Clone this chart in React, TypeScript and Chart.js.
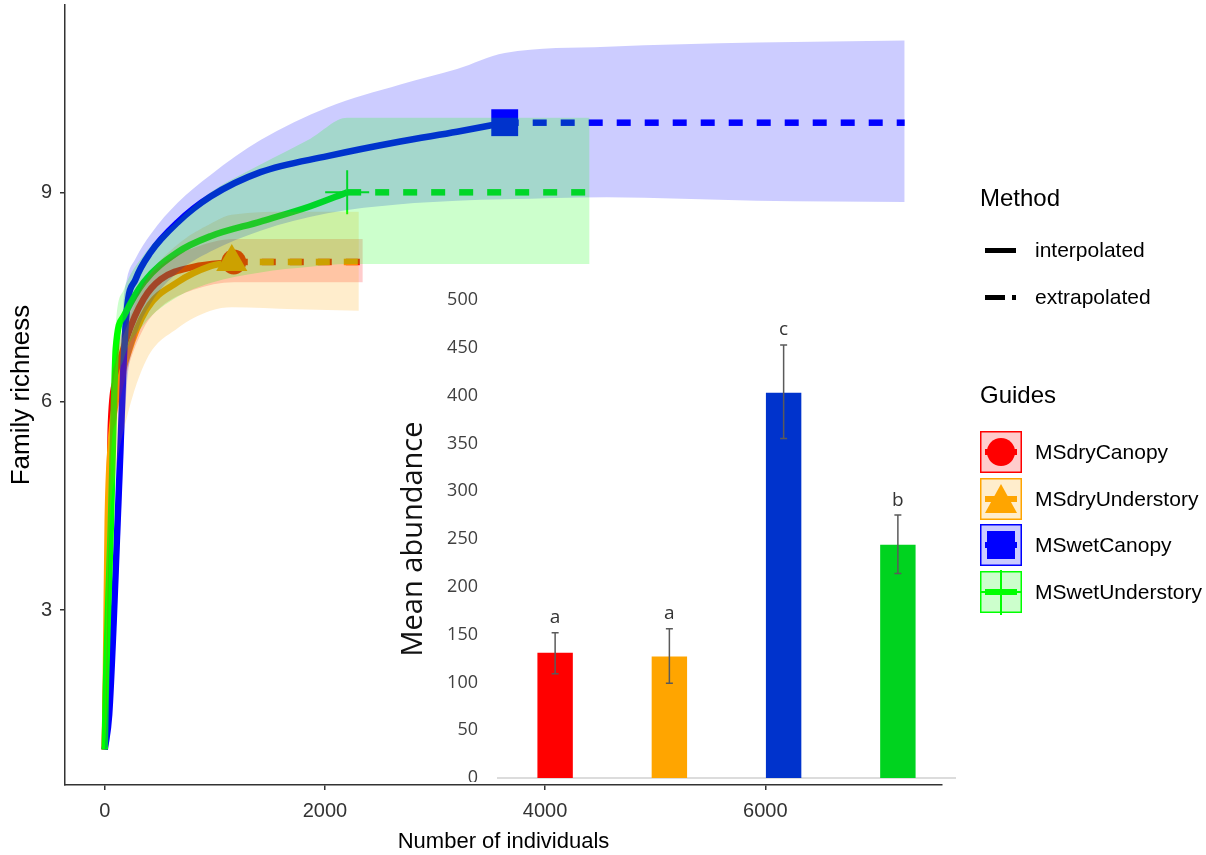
import React, { useEffect, useRef } from "react";
import { Chart, registerables } from "chart.js";

Chart.register(...registerables);

const FONT = "'Liberation Sans', Arial, sans-serif";
const INSET_FONT = "'Open Sans', 'Noto Sans', sans-serif";

// ---------- main chart data (rarefaction / extrapolation) ----------
const groupNames = ["MSdryCanopy", "MSdryUnderstory", "MSwetCanopy", "MSwetUnderstory"];
const groupColors = ["#FF0000", "#FFA500", "#0000FF", "#00FF00"];
const bandColors = ["rgba(255,0,0,0.2)", "rgba(255,165,0,0.2)", "rgba(0,0,255,0.2)", "rgba(0,255,0,0.2)"];

// MSdryCanopy
const redInterpX = [0, 20, 40, 54, 100, 206, 354, 508, 807, 1172];
const redInterpY = [1, 2.5, 4.3, 5.58, 6.3, 6.94, 7.47, 7.75, 7.93, 8.0];
const redExtrapX = [1172, 2344];
const redExtrapY = [8, 8];
const redCiX = [0, 20, 40, 54, 100, 206, 354, 508, 807, 1172, 1758, 2344];
const redCiLow = [1, 1.8, 3.6, 5.0, 5.7, 6.45, 7.05, 7.35, 7.6, 7.71, 7.71, 7.71];
const redCiHigh = [1, 3.0, 4.8, 5.9, 6.6, 7.2, 7.7, 7.95, 8.2, 8.33, 8.33, 8.33];

// MSdryUnderstory
const orangeInterpX = [0, 10, 27, 54, 100, 206, 380, 662, 961, 1154];
const orangeInterpY = [1, 2.0, 4.27, 5.36, 6.0, 6.66, 7.32, 7.71, 7.94, 8.0];
const orangeExtrapX = [1154, 2308];
const orangeExtrapY = [8, 8];
const orangeCiX = [0, 10, 27, 54, 100, 206, 380, 662, 961, 1154, 1731, 2308];
const orangeCiLow = [1, 1.4, 3.3, 4.4, 5.0, 5.8, 6.6, 7.05, 7.3, 7.35, 7.32, 7.3];
const orangeCiHigh = [1, 2.4, 4.8, 5.8, 6.5, 7.1, 7.75, 8.25, 8.55, 8.68, 8.72, 8.72];

// MSwetCanopy
const blueInterpX = [0, 40, 80, 110, 140, 170, 200, 280, 417, 662, 961, 1415, 2023, 2685, 3200, 3633];
const blueInterpY = [1, 1.5, 2.8, 4.0, 5.2, 6.5, 7.3, 7.75, 8.14, 8.57, 8.94, 9.29, 9.52, 9.73, 9.87, 10.0];
const blueExtrapX = [3633, 7266];
const blueExtrapY = [10, 10];
const blueCiX = [0, 40, 80, 110, 140, 170, 200, 280, 417, 662, 961, 1415, 2023, 2685, 3200, 3633, 4560, 5920, 7266];
const blueCiLow = [1, 1.1, 2.0, 3.0, 4.1, 5.3, 6.2, 6.9, 7.4, 7.85, 8.15, 8.45, 8.7, 8.83, 8.88, 8.9, 8.93, 8.88, 8.86];
const blueCiHigh = [1, 2.0, 3.6, 5.0, 6.3, 7.4, 7.75, 8.05, 8.4, 8.85, 9.25, 9.75, 10.22, 10.55, 10.77, 11.0, 11.09, 11.15, 11.18];

// MSwetUnderstory
const greenInterpX = [0, 12, 30, 55, 82, 100, 172, 354, 662, 961, 1415, 1868, 2202];
const greenInterpY = [1, 2.0, 3.0, 4.2, 5.85, 6.75, 7.22, 7.71, 8.14, 8.37, 8.58, 8.8, 9.0];
const greenExtrapX = [2202, 4404];
const greenExtrapY = [9, 9];
const greenCiX = [0, 12, 30, 55, 82, 100, 172, 354, 662, 961, 1415, 1868, 2202, 3303, 4404];
const greenCiLow = [1, 1.4, 2.2, 3.3, 4.9, 5.9, 6.6, 7.1, 7.5, 7.7, 7.85, 7.93, 7.97, 7.97, 7.97];
const greenCiHigh = [1, 2.4, 3.5, 4.8, 6.4, 7.1, 7.6, 8.1, 8.6, 9.0, 9.4, 9.77, 10.07, 10.07, 10.07];

const xTickValues = [0, 2000, 4000, 6000];
const yTickValues = [3, 6, 9];

// ---------- inset bar chart data ----------
const barMeans = [131, 127, 403, 244];
const barErrLow = [109, 99, 355, 214];
const barErrHigh = [152, 156, 453, 275];
const barLetters = ["a", "a", "c", "b"];
const barColors = ["#FF0000", "#FFA500", "#0033CC", "#00D31F"];

const groups = [
  { ix: redInterpX, iy: redInterpY, ex: redExtrapX, ey: redExtrapY, cx: redCiX, lo: redCiLow, hi: redCiHigh, style: "circle", r: 12.5, bw: 0 },
  { ix: orangeInterpX, iy: orangeInterpY, ex: orangeExtrapX, ey: orangeExtrapY, cx: orangeCiX, lo: orangeCiLow, hi: orangeCiHigh, style: "triangle", r: 18, bw: 0 },
  { ix: blueInterpX, iy: blueInterpY, ex: blueExtrapX, ey: blueExtrapY, cx: blueCiX, lo: blueCiLow, hi: blueCiHigh, style: "rect", r: 19, bw: 0 },
  { ix: greenInterpX, iy: greenInterpY, ex: greenExtrapX, ey: greenExtrapY, cx: greenCiX, lo: greenCiLow, hi: greenCiHigh, style: "cross", r: 22, bw: 2 },
];

function pts(xs: number[], ys: number[]) {
  return xs.map((x, i) => ({ x, y: ys[i] }));
}

function buildMainDatasets() {
  const ds: any[] = [];
  groups.forEach((g, i) => {
    const color = groupColors[i];
    ds.push({
      data: pts(g.ix, g.iy),
      borderColor: color,
      borderWidth: 6.5,
      pointRadius: 0,
      fill: false,
      cubicInterpolationMode: "monotone",
      order: 40 - i,
    });
    ds.push({
      data: pts(g.ex, g.ey),
      borderColor: color,
      borderWidth: 6.5,
      borderDash: [14, 14],
      borderCapStyle: "butt",
      pointRadius: 0,
      fill: false,
      order: 40 - i,
    });
    const last = g.ix.length - 1;
    ds.push({
      data: [{ x: g.ix[last], y: g.iy[last] }],
      showLine: false,
      pointStyle: g.style,
      pointRadius: g.r,
      pointHoverRadius: g.r,
      pointBackgroundColor: color,
      pointBorderColor: color,
      pointBorderWidth: g.bw,
      order: 30 - i,
    });
    ds.push({
      data: pts(g.cx, g.hi),
      borderWidth: 0,
      borderColor: "rgba(0,0,0,0)",
      pointRadius: 0,
      fill: "+1",
      backgroundColor: bandColors[i],
      cubicInterpolationMode: "monotone",
      order: 10 - i,
    });
    ds.push({
      data: pts(g.cx, g.lo),
      borderWidth: 0,
      borderColor: "rgba(0,0,0,0)",
      pointRadius: 0,
      fill: false,
      cubicInterpolationMode: "monotone",
      order: 10 - i,
    });
  });
  return ds;
}

const errorBarPlugin = {
  id: "errorBars",
  afterDatasetsDraw(chart: any) {
    const ctx = chart.ctx;
    const meta = chart.getDatasetMeta(0);
    const ys = chart.scales.y;
    ctx.save();
    meta.data.forEach((bar: any, i: number) => {
      const x = bar.x;
      const yTop = ys.getPixelForValue(barErrHigh[i]);
      const yBot = ys.getPixelForValue(barErrLow[i]);
      ctx.strokeStyle = "#5a5a5a";
      ctx.lineWidth = 1.5;
      ctx.beginPath();
      ctx.moveTo(x, yTop);
      ctx.lineTo(x, yBot);
      ctx.moveTo(x - 3.5, yTop);
      ctx.lineTo(x + 3.5, yTop);
      ctx.moveTo(x - 3.5, yBot);
      ctx.lineTo(x + 3.5, yBot);
      ctx.stroke();
      ctx.fillStyle = "#333333";
      ctx.font = `19px ${INSET_FONT}`;
      ctx.textAlign = "center";
      ctx.textBaseline = "middle";
      ctx.fillText(barLetters[i], x, yTop - 15);
    });
    ctx.restore();
  },
};

function LegendKey({ i, cy }: { i: number; cy: number }) {
  const color = groupColors[i];
  return (
    <svg
      width={42}
      height={42}
      style={{ position: "absolute", left: 980, top: cy - 21, overflow: "visible" }}
    >
      <rect x={0.75} y={0.75} width={40.5} height={40.5} fill={bandColors[i]} stroke={color} strokeWidth={1.5} />
      <line x1={5} x2={37} y1={21} y2={21} stroke={color} strokeWidth={6} />
      {i === 0 && <circle cx={21} cy={21} r={14} fill={color} />}
      {i === 1 && <polygon points="21,6 37,35 5,35" fill={color} />}
      {i === 2 && <rect x={7} y={7} width={28} height={28} fill={color} />}
      {i === 3 && (
        <g stroke={color} strokeWidth={2}>
          <line x1={21} x2={21} y1={-1} y2={44} />
          <line x1={0} x2={42} y1={21} y2={21} />
        </g>
      )}
    </svg>
  );
}

export default function App() {
  const mainRef = useRef<HTMLCanvasElement>(null);
  const insetRef = useRef<HTMLCanvasElement>(null);

  useEffect(() => {
    const main = new Chart(mainRef.current as HTMLCanvasElement, {
      type: "line",
      data: { datasets: buildMainDatasets() },
      options: {
        responsive: false,
        animation: false,
        devicePixelRatio: 1,
        events: [],
        layout: { autoPadding: false, padding: { left: 0, top: 5, right: 1206 - 942, bottom: 0 } },
        plugins: { legend: { display: false }, tooltip: { enabled: false } },
        scales: {
          x: {
            type: "linear",
            min: -361,
            max: 7605,
            afterBuildTicks: (s: any) => {
              s.ticks = xTickValues.map((v) => ({ value: v }));
            },
            afterFit: (s: any) => {
              s.height = 70;
              s.paddingLeft = 0;
              s.paddingRight = 0;
            },
            ticks: {
              autoSkip: false,
              maxRotation: 0,
              padding: 9,
              color: "#333333",
              font: { family: FONT, size: 20 },
              callback: (v: any) => String(v),
            },
            grid: { drawOnChartArea: false, drawTicks: true, tickLength: 5, color: "#333333", lineWidth: 1.5 },
            border: { display: true, color: "#333333", width: 1.5 },
            title: {
              display: true,
              text: "Number of individuals",
              color: "#000000",
              font: { family: FONT, size: 22 },
              padding: { top: 0, bottom: 0 },
            },
          },
          y: {
            type: "linear",
            min: 0.49,
            max: 11.69,
            afterBuildTicks: (s: any) => {
              s.ticks = yTickValues.map((v) => ({ value: v }));
            },
            afterFit: (s: any) => {
              s.width = 65;
              s.paddingTop = 0;
              s.paddingBottom = 0;
            },
            ticks: {
              padding: 8,
              color: "#333333",
              font: { family: FONT, size: 20 },
              callback: (v: any) => String(v),
            },
            grid: { drawOnChartArea: false, drawTicks: true, tickLength: 5, color: "#333333", lineWidth: 1.5 },
            border: { display: true, color: "#333333", width: 1.5 },
            title: {
              display: true,
              text: "Family richness",
              color: "#000000",
              font: { family: FONT, size: 26 },
              padding: { top: 6, bottom: 0 },
            },
          },
        },
      } as any,
    });

    const inset = new Chart(insetRef.current as HTMLCanvasElement, {
      type: "bar",
      data: {
        labels: groupNames,
        datasets: [
          {
            data: barMeans,
            backgroundColor: barColors,
            borderWidth: 0,
            barPercentage: 0.31,
            categoryPercentage: 1,
          },
        ],
      },
      options: {
        responsive: false,
        animation: false,
        devicePixelRatio: 1,
        events: [],
        layout: { autoPadding: false, padding: { left: 0, right: 15, top: 20, bottom: 0 } },
        plugins: { legend: { display: false }, tooltip: { enabled: false } },
        scales: {
          x: {
            ticks: { display: false },
            grid: { display: false, drawTicks: false },
            border: { display: true, color: "#dcdcdc", width: 2 },
            afterFit: (s: any) => {
              s.height = 4;
              s.paddingLeft = 0;
              s.paddingRight = 0;
            },
          },
          y: {
            min: 0,
            max: 500,
            ticks: {
              stepSize: 50,
              padding: 20,
              color: "#404040",
              font: { family: INSET_FONT, size: 18 },
            },
            grid: { display: false, drawTicks: false },
            border: { display: false },
            afterFit: (s: any) => {
              s.width = 118;
              s.paddingTop = 0;
              s.paddingBottom = 0;
            },
            title: {
              display: true,
              text: "Mean abundance",
              color: "#111111",
              font: { family: INSET_FONT, size: 29 },
              padding: { top: 16, bottom: 0 },
            },
          },
        },
      } as any,
      plugins: [errorBarPlugin],
    });

    return () => {
      main.destroy();
      inset.destroy();
    };
  }, []);

  const textStyle = (left: number, cy: number, size: number, lh: number): React.CSSProperties => ({
    position: "absolute",
    left,
    top: cy - lh / 2,
    height: lh,
    lineHeight: `${lh}px`,
    fontFamily: FONT,
    fontSize: size,
    color: "#000",
    whiteSpace: "nowrap",
  });

  const keyCenters = [452, 498.5, 545, 591.5];

  return (
    <div style={{ position: "absolute", left: 0, top: 0, width: 1206, height: 855, background: "#fff", overflow: "hidden" }}>
      <canvas ref={mainRef} width={1206} height={855} style={{ position: "absolute", left: 0, top: 0 }} />
      <canvas ref={insetRef} width={590} height={502} style={{ position: "absolute", left: 380, top: 280 }} />

      <div style={textStyle(980, 198, 24, 30)}>Method</div>
      <div style={{ position: "absolute", left: 985, top: 247.5, width: 31, height: 5, background: "#000" }} />
      <div style={textStyle(1035, 250, 21, 26)}>interpolated</div>
      <div style={{ position: "absolute", left: 985, top: 294.5, width: 20, height: 5, background: "#000" }} />
      <div style={{ position: "absolute", left: 1012, top: 294.5, width: 4, height: 5, background: "#000" }} />
      <div style={textStyle(1035, 297, 21, 26)}>extrapolated</div>

      <div style={textStyle(980, 395, 24, 30)}>Guides</div>
      {groupNames.map((name, i) => (
        <React.Fragment key={name}>
          <LegendKey i={i} cy={keyCenters[i]} />
          <div style={textStyle(1035, keyCenters[i], 21, 26)}>{name}</div>
        </React.Fragment>
      ))}
    </div>
  );
}
